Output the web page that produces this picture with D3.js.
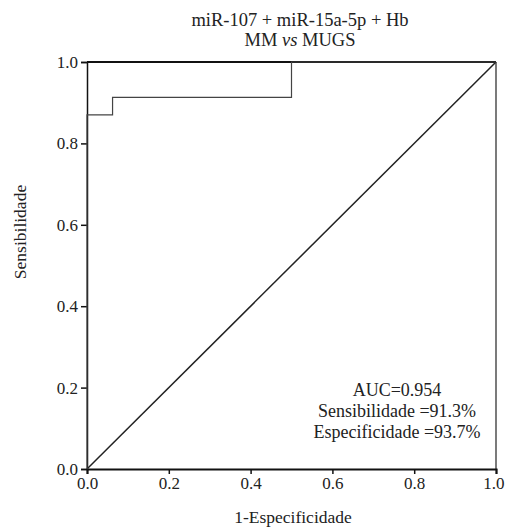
<!DOCTYPE html>
<html>
<head>
<meta charset="utf-8">
<script src="https://cdn.jsdelivr.net/npm/d3@7"></script>
<style>
  body { margin: 0; background: #fff; }
  text { font-family: "Liberation Serif", "Times New Roman", serif; fill: #222; }
</style>
</head>
<body>
<svg id="chart" width="505" height="530"></svg>
<script>
// ROC curve points (1-specificity, sensitivity)
const fpr = [0, 0, 0.0625, 0.0625, 0.5, 0.5, 1];
const tpr = [0, 0.870, 0.870, 0.913, 0.913, 1, 1];
const ticks = [0, 0.2, 0.4, 0.6, 0.8, 1.0];
const titleLines = ['miR-107 + miR-15a-5p + Hb', 'MM vs MUGS'];
const statsText = ['AUC=0.954', 'Sensibilidade =91.3%', 'Especificidade =93.7%'];

const svg = d3.select('#chart');
const margin = { left: 87, right: 9, top: 62, bottom: 61 };
const width = 505 - margin.left - margin.right;
const height = 530 - margin.top - margin.bottom;

const x = d3.scaleLinear().domain([0, 1]).range([margin.left, margin.left + width]);
const y = d3.scaleLinear().domain([0, 1]).range([margin.top + height, margin.top]);

// frame: top and right lines
svg.append('line')
  .attr('x1', x(0)).attr('x2', x(1)).attr('y1', y(1)).attr('y2', y(1))
  .attr('stroke', '#111').attr('stroke-width', 2.2);
svg.append('line')
  .attr('x1', x(1)).attr('x2', x(1)).attr('y1', y(1)).attr('y2', y(0))
  .attr('stroke', '#333').attr('stroke-width', 1.3);

// axes
const xAxis = svg.append('g')
  .attr('transform', `translate(0,${y(0)})`)
  .call(d3.axisBottom(x).tickValues(ticks).tickFormat(d3.format('.1f')).tickSize(5).tickPadding(3));
const yAxis = svg.append('g')
  .attr('transform', `translate(${x(0)},0)`)
  .call(d3.axisLeft(y).tickValues(ticks).tickFormat(d3.format('.1f')).tickSize(6).tickPadding(3));

[xAxis, yAxis].forEach(ax => {
  ax.attr('font-family', '"Liberation Serif", serif').attr('font-size', 17);
  ax.select('.domain').attr('stroke', '#111').attr('stroke-width', 2);
  ax.selectAll('.tick line').attr('stroke', '#111').attr('stroke-width', 1.5);
  ax.selectAll('.tick text').attr('fill', '#222');
});
yAxis.select('.domain').attr('stroke-width', 1.5);
// last x label sits at the very edge; keep it inside the page
xAxis.selectAll('.tick text').filter(d => d === 1).attr('text-anchor', 'end').attr('dx', 8);

// diagonal reference
svg.append('line')
  .attr('x1', x(0)).attr('y1', y(0)).attr('x2', x(1)).attr('y2', y(1))
  .attr('stroke', '#222').attr('stroke-width', 1.5);

// ROC curve
const line = d3.line().x((d, i) => x(fpr[i])).y((d, i) => y(tpr[i]));
svg.append('path')
  .datum(fpr)
  .attr('d', line)
  .attr('fill', 'none')
  .attr('stroke', '#444')
  .attr('stroke-width', 1.2);

// title
const title = svg.append('text')
  .attr('x', 300).attr('y', 26)
  .attr('text-anchor', 'middle')
  .style('font-size', '18.5px');
title.append('tspan').attr('x', 300).text(titleLines[0]);
const t2 = title.append('tspan').attr('x', 300).attr('dy', 20);
t2.append('tspan').text('MM ');
t2.append('tspan').style('font-style', 'italic').text('vs');
t2.append('tspan').text(' MUGS');

// stats
svg.selectAll('.stat')
  .data(statsText)
  .join('text')
  .attr('class', 'stat')
  .attr('x', 397)
  .attr('y', (d, i) => 396 + i * 21)
  .attr('text-anchor', 'middle')
  .style('font-size', '18px')
  .text(d => d);

// axis titles
svg.append('text')
  .attr('x', 293).attr('y', 523)
  .attr('text-anchor', 'middle')
  .style('font-size', '17.5px')
  .text('1-Especificidade');
svg.append('text')
  .attr('transform', `translate(26,232) rotate(-90)`)
  .attr('text-anchor', 'middle')
  .style('font-size', '17.5px')
  .text('Sensibilidade');
</script>
</body>
</html>
